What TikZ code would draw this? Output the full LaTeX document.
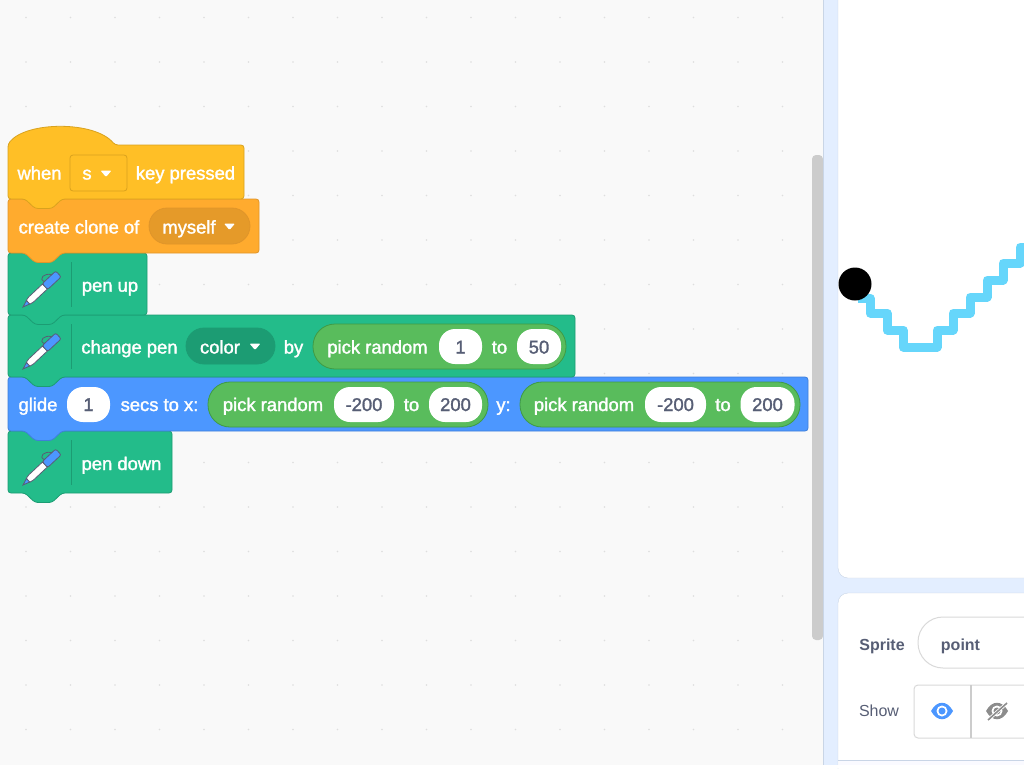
\documentclass[tikz,border=0pt]{standalone}
\usepackage{fontspec}
\setmainfont{Liberation Sans}
\newfontfamily\blockfont{Liberation Sans}[RawFeature={embolden=1.6}]
\usepackage{xcolor}
\definecolor{hatfill}{HTML}{FFBF26}
\definecolor{hatline}{HTML}{D9A21E}
\definecolor{ctrlfill}{HTML}{FFAB2E}
\definecolor{ctrlline}{HTML}{E0952A}
\definecolor{penfill}{HTML}{23BC8A}
\definecolor{penline}{HTML}{1C9C73}
\definecolor{motionfill}{HTML}{4C97FF}
\definecolor{motionline}{HTML}{3F7FD9}
\definecolor{opfill}{HTML}{59BC5C}
\definecolor{opline}{HTML}{3F9A45}
\definecolor{inktext}{HTML}{575E75}
\definecolor{panelblue}{HTML}{E3EEFF}
\definecolor{panelline}{HTML}{C9D5E6}
\definecolor{trail}{HTML}{66D6FB}

\tikzset{
  blocktext/.style={text=white,font=\blockfont\fontsize{18.4}{20}\selectfont,inner sep=0pt,anchor=base},
  fieldtext/.style={text=inktext,font=\blockfont\fontsize{18.4}{20}\selectfont,inner sep=0pt,anchor=base},
  ovalbox/.style={fill=white,draw=none,minimum height=35,inner sep=0pt,rounded corners=16},
  opbox/.style={fill=opfill,draw=opline,line width=0.8,minimum height=45,inner sep=0pt,rounded corners=22},
  menubox/.style={minimum height=36,inner sep=0pt,line width=0.8,rounded corners=18}
}

% block with a tab under it, x1 y1 x2 y2
\newcommand{\stackblock}[6]{
  \draw[fill=#1,draw=#2,line width=0.8,rounded corners=3] (#3,#4) -- (#5,#4) -- (#5,#6) -- (62,#6) -- (52,#6+9.5) -- (35,#6+9.5) -- (25,#6) -- (#3,#6) -- cycle;
}
\newcommand{\dropmark}[2]{
  \fill[white,rounded corners=1] (#1-5.5,#2-3.5) -- (#1+5.5,#2-3.5) -- (#1,#2+3) -- cycle;
}
% pen icon and the line beside it, y is the block top
\newcommand{\penicon}[1]{
  \draw[penline,line width=0.8] (71,#1+9) -- (71,#1+54);
  \begin{scope}[shift={(23,#1+54)},rotate=43,line width=0.8,draw=inktext]
    \filldraw[fill=motionfill] (0,0) -- (7,-2.4) -- (7,2.4) -- cycle;
    \filldraw[fill=white] (7,-2.6) -- (11,-3.5) -- (30,-3.5) -- (30,3.5) -- (11,3.5) -- (7,2.6) -- cycle;
    \filldraw[fill=motionfill,rounded corners=2] (30,-4) -- (48.5,-4) -- (48.5,4) -- (30,4) -- cycle;
    \draw (33,-4) .. controls (30,-10) and (39,-11) .. (43,-4);
  \end{scope}
}

\begin{document}
\begin{tikzpicture}[x=1pt,y=-1pt]
    \useasboundingbox (0,0) rectangle (1024,768);
    \clip (0,0) rectangle (1024,768);

    % work area
    \fill[black!2.5] (0,0) rectangle (823,768);
    \foreach \i in {-4,...,13}
      \foreach \j in {-3,...,13}
        \fill[black!13] (204+44.5*\i,151+44.5*\j) circle (0.8);
    \fill[black!20,rounded corners=4] (812,155) rectangle (823,640);

    % right side
    \fill[panelblue] (823,0) rectangle (1024,768);
    \draw[panelline] (823,0) -- (823,768);
    \draw[panelline,fill=white,rounded corners=10] (838,-20) rectangle (1050,578);
    \draw[panelline,fill=white,rounded corners=10] (838,593) rectangle (1050,790);
    \fill[blue!2!white] (838.5,760) rectangle (1024,768);
    \draw[panelline] (838,760) -- (1024,760);

    % pen trail and sprite
    \draw[trail,line width=9,line join=round] (858,298) -| (870,313) -| (887,330) -| (903,347) -| (937,330) -| (953,313) -| (970,297) -| (987,280) -| (1003,263) -| (1020,247) -- (1030,247);
    \fill[black] (855,284) circle (16.5);

    % sprite panel
    \node[text=inktext,font=\bfseries\fontsize{16}{18}\selectfont,inner sep=0pt,anchor=base] (spritelabel) at (882,650) {Sprite};
    \draw[black!15,line width=1,fill=white,rounded corners=25] (918,617) rectangle (1060,668);
    \node[text=inktext,font=\bfseries\fontsize{16}{18}\selectfont,inner sep=0pt,anchor=base] (spritename) at (960.5,650) {point};
    \node[text=inktext,font=\fontsize{16}{18}\selectfont,inner sep=0pt,anchor=base] (showlabel) at (879,716.7) {Show};
    \draw[black!15,line width=1,fill=white,rounded corners=4] (914,685) rectangle (1040,738);
    \draw[black!20,line width=2] (970.5,685) -- (970.5,738);
    \fill[motionfill] (931,711) .. controls (937,700) and (947,700) .. (953,711) .. controls (947,722) and (937,722) .. (931,711) -- cycle;
    \fill[white] (942,711) circle (5.5);
    \fill[motionfill] (942,711) circle (3.5);
    \fill[black!45] (986,711) .. controls (992,700) and (1002,700) .. (1008,711) .. controls (1002,722) and (992,722) .. (986,711) -- cycle;
    \fill[white] (997,711) circle (5.5);
    \fill[black!45] (997,711) circle (3.5);
    \draw[white,line width=3.2] (988,720) -- (1007,703);
    \draw[black!45,line width=1.6] (988,720) -- (1007,703);

    % blocks, from the last one up
    \stackblock{penfill}{penline}{8}{431}{172}{493}
    \stackblock{motionfill}{motionline}{8}{377}{808}{431}
    \stackblock{penfill}{penline}{8}{315}{575}{377}
    \stackblock{penfill}{penline}{8}{253}{147}{315}
    \stackblock{ctrlfill}{ctrlline}{8}{199}{259}{253}
    \draw[fill=hatfill,draw=hatline,line width=0.8,rounded corners=3] (8,199) -- (8,144) .. controls (27,121) and (95,121) .. (115,145) -- (244,145) -- (244,199) -- (62,199) -- (52,208.5) -- (35,208.5) -- (25,199) -- cycle;
    \penicon{253}
    \penicon{315}
    \penicon{431}

    % when s key pressed
    \node[blocktext] (whenlabel) at (39.5,179.5) {when};
    \node[fill=hatfill,draw=hatline,line width=0.8,rounded corners=3,minimum width=57,minimum height=36,inner sep=0pt] (keymenu) at (98.5,173) {};
    \node[blocktext] (keyname) at (87,179.5) {s};
    \dropmark{106}{174}
    \node[blocktext] (keylabel) at (185.5,179.5) {key pressed};

    % create clone
    \node[blocktext] (clonelabel) at (79,233.5) {create clone of};
    \node[menubox,fill=black!10!ctrlfill,draw=ctrlline,minimum width=101] (clonemenu) at (199.5,226) {};
    \node[blocktext] (clonename) at (189,233.5) {myself};
    \dropmark{229.5}{227}

    % pen up
    \node[blocktext] (penuplabel) at (110,291.7) {pen up};

    % change pen
    \node[blocktext] (changelabel) at (129.5,353.5) {change pen};
    \node[menubox,fill=penline,draw=penline,minimum width=89] (colormenu) at (230.5,346) {};
    \node[blocktext] (colorname) at (220,353.5) {color};
    \dropmark{255}{347}
    \node[blocktext] (bylabel) at (293.5,353.5) {by};
    \node[opbox,minimum width=253] (colorpick) at (439.5,346.5) {};
    \node[blocktext] (colorrandom) at (377.5,353.5) {pick random};
    \node[ovalbox,minimum width=43] (colorlow) at (460.5,346.5) {};
    \node[fieldtext] (colorlowtext) at (colorlow |- colorrandom.base) {1};
    \node[blocktext] (colorto) at (499.5,353.5) {to};
    \node[ovalbox,minimum width=44] (colorhigh) at (539,346.5) {};
    \node[fieldtext] (colorhightext) at (colorhigh |- colorrandom.base) {50};

    % glide
    \node[blocktext] (glidelabel) at (38,411) {glide};
    \node[ovalbox,minimum width=43] (glidetime) at (88.5,404.5) {};
    \node[fieldtext] (glidetimetext) at (glidetime |- glidelabel.base) {1};
    \node[blocktext] (secslabel) at (159.5,411) {secs to x:};
    \node[opbox,minimum width=280] (xpick) at (348,404.5) {};
    \node[blocktext] (xrandom) at (273,411) {pick random};
    \node[ovalbox,minimum width=60] (xlow) at (364,404.5) {};
    \node[fieldtext] (xlowtext) at (xlow |- glidelabel.base) {-200};
    \node[blocktext] (xto) at (411.5,411) {to};
    \node[ovalbox,minimum width=53] (xhigh) at (455.5,404.5) {};
    \node[fieldtext] (xhightext) at (xhigh |- glidelabel.base) {200};
    \node[blocktext] (ylabel) at (503.5,411) {y:};
    \node[opbox,minimum width=280] (ypick) at (660,404.5) {};
    \node[blocktext] (yrandom) at (584,411) {pick random};
    \node[ovalbox,minimum width=61] (ylow) at (675.5,404.5) {};
    \node[fieldtext] (ylowtext) at (ylow |- glidelabel.base) {-200};
    \node[blocktext] (yto) at (723,411) {to};
    \node[ovalbox,minimum width=54] (yhigh) at (767.5,404.5) {};
    \node[fieldtext] (yhightext) at (yhigh |- glidelabel.base) {200};

    % pen down
    \node[blocktext] (pendownlabel) at (121.5,470) {pen down};

    \fill[white] (0,765) rectangle (1024,768);
\end{tikzpicture}
\end{document}
